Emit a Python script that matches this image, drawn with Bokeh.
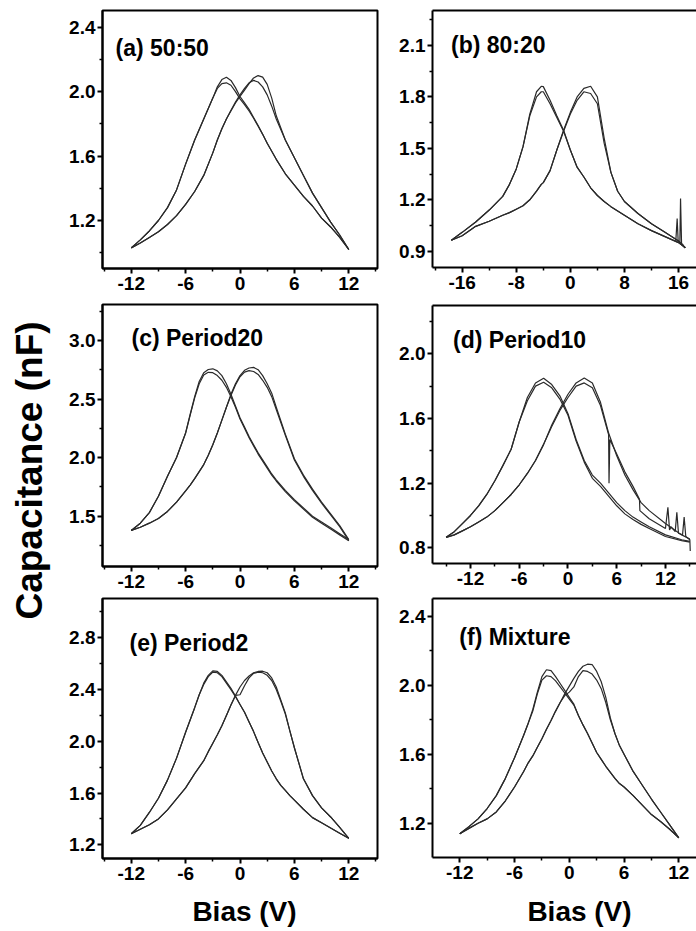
import math
from bokeh.plotting import figure
from bokeh.layouts import row, column
from bokeh.models import FixedTicker, Range1d, LinearAxis, Label, PrintfTickFormatter
from bokeh.embed import file_html
from bokeh.resources import INLINE

# ---------------- data ----------------
# (a) 50:50
a_bias = [-12, -11, -10, -9, -8, -7, -6, -5, -4, -3, -2.5, -2, -1.5, -1, -0.5, 0, 0.5, 1, 1.5, 2, 2.5, 3, 3.5, 4, 5, 6, 7, 8, 9, 10, 11, 12]
a_neg1 = [1.03, 1.08, 1.135, 1.20, 1.28, 1.39, 1.55, 1.70, 1.83, 1.96, 2.03, 2.075, 2.09, 2.07, 2.025, 1.97, 1.93, 1.89, 1.84, 1.79, 1.735, 1.68, 1.63, 1.58, 1.49, 1.42, 1.35, 1.29, 1.215, 1.16, 1.095, 1.02]
a_neg2 = [1.03, 1.08, 1.135, 1.20, 1.28, 1.39, 1.55, 1.70, 1.83, 1.96, 2.02, 2.05, 2.055, 2.04, 2.00, 1.955, 1.92, 1.88, 1.835, 1.785, 1.735, 1.68, 1.63, 1.58, 1.49, 1.42, 1.35, 1.29, 1.215, 1.16, 1.095, 1.02]
a_pos1 = [1.03, 1.06, 1.095, 1.13, 1.175, 1.23, 1.30, 1.38, 1.48, 1.62, 1.70, 1.77, 1.83, 1.88, 1.93, 1.97, 2.01, 2.05, 2.085, 2.10, 2.09, 2.045, 1.96, 1.85, 1.70, 1.59, 1.48, 1.37, 1.28, 1.19, 1.11, 1.02]
a_pos2 = [1.03, 1.06, 1.095, 1.13, 1.175, 1.23, 1.30, 1.38, 1.48, 1.62, 1.70, 1.77, 1.83, 1.885, 1.935, 1.98, 2.02, 2.055, 2.07, 2.06, 2.03, 1.98, 1.91, 1.83, 1.70, 1.59, 1.48, 1.37, 1.28, 1.19, 1.11, 1.02]

# (b) 80:20
b_bias = [-17.6, -16, -14, -12, -10, -9, -8, -7, -6, -5, -4.3, -4, -3, -2, -1, 0, 1, 2, 3, 4, 5, 6, 7, 8, 10, 12, 14, 16, 17]
b_neg1 = [0.964, 1.01, 1.07, 1.14, 1.22, 1.29, 1.38, 1.51, 1.70, 1.83, 1.862, 1.86, 1.78, 1.69, 1.606, 1.49, 1.39, 1.333, 1.27, 1.225, 1.19, 1.16, 1.135, 1.11, 1.06, 1.02, 0.985, 0.95, 0.92]
b_neg2 = [0.964, 1.01, 1.07, 1.14, 1.22, 1.29, 1.38, 1.51, 1.69, 1.80, 1.83, 1.83, 1.76, 1.68, 1.60, 1.49, 1.39, 1.333, 1.27, 1.225, 1.19, 1.16, 1.135, 1.11, 1.06, 1.02, 0.985, 0.95, 0.92]
b_pos1 = [0.964, 0.99, 1.045, 1.075, 1.11, 1.125, 1.145, 1.165, 1.20, 1.25, 1.29, 1.30, 1.37, 1.49, 1.606, 1.71, 1.80, 1.85, 1.862, 1.80, 1.56, 1.36, 1.25, 1.19, 1.12, 1.06, 1.01, 0.96, 0.92]
b_pos2 = [0.964, 0.99, 1.045, 1.075, 1.11, 1.125, 1.145, 1.165, 1.20, 1.25, 1.29, 1.30, 1.37, 1.49, 1.60, 1.70, 1.78, 1.83, 1.82, 1.76, 1.53, 1.36, 1.25, 1.19, 1.12, 1.06, 1.01, 0.96, 0.92]
b_spike_bias = [15.6, 15.8, 15.95, 16.2, 16.3, 16.45, 16.7]
b_spike_cap = [0.96, 1.09, 0.955, 0.95, 1.207, 0.945, 0.935]

# (c) Period20
c_bias = [-12, -11, -10, -9, -8, -7, -6, -5.5, -5, -4.5, -4, -3.5, -3, -2.5, -2, -1.5, -1, -0.5, 0, 0.5, 1, 1.5, 2, 2.5, 3, 3.5, 4, 5, 6, 7, 8, 9, 10, 11, 12]
c_neg1 = [1.378, 1.44, 1.53, 1.67, 1.84, 2.00, 2.21, 2.37, 2.52, 2.65, 2.725, 2.752, 2.758, 2.74, 2.70, 2.63, 2.54, 2.44, 2.34, 2.26, 2.18, 2.11, 2.04, 1.98, 1.92, 1.86, 1.81, 1.72, 1.64, 1.57, 1.50, 1.45, 1.40, 1.35, 1.30]
c_neg2 = [1.378, 1.44, 1.53, 1.67, 1.84, 2.00, 2.21, 2.36, 2.51, 2.63, 2.705, 2.728, 2.725, 2.70, 2.66, 2.60, 2.52, 2.43, 2.33, 2.25, 2.17, 2.10, 2.03, 1.97, 1.91, 1.85, 1.80, 1.71, 1.63, 1.56, 1.49, 1.44, 1.39, 1.34, 1.29]
c_pos1 = [1.378, 1.405, 1.44, 1.48, 1.54, 1.62, 1.715, 1.765, 1.82, 1.88, 1.94, 2.02, 2.11, 2.21, 2.32, 2.43, 2.54, 2.63, 2.70, 2.745, 2.765, 2.77, 2.75, 2.70, 2.63, 2.55, 2.43, 2.20, 1.99, 1.85, 1.73, 1.62, 1.52, 1.42, 1.30]
c_pos2 = [1.378, 1.405, 1.44, 1.48, 1.54, 1.62, 1.715, 1.765, 1.82, 1.88, 1.94, 2.02, 2.11, 2.21, 2.32, 2.43, 2.53, 2.62, 2.69, 2.73, 2.743, 2.735, 2.71, 2.66, 2.60, 2.52, 2.41, 2.19, 1.98, 1.84, 1.72, 1.61, 1.51, 1.41, 1.29]

# (d) Period10
d_bias = [-15, -14, -13, -12, -11, -10, -9, -8, -7, -6, -5, -4, -3, -2, -1, 0, 1, 2, 3, 4, 5, 6, 7, 8, 9, 10, 12, 14, 15]
d_neg1 = [0.865, 0.90, 0.95, 1.00, 1.06, 1.13, 1.215, 1.31, 1.41, 1.58, 1.73, 1.82, 1.849, 1.81, 1.74, 1.63, 1.47, 1.34, 1.25, 1.20, 1.14, 1.08, 1.03, 0.99, 0.96, 0.93, 0.88, 0.85, 0.84]
d_neg2 = [0.865, 0.90, 0.95, 1.00, 1.06, 1.13, 1.215, 1.31, 1.41, 1.58, 1.71, 1.80, 1.824, 1.79, 1.72, 1.62, 1.46, 1.33, 1.23, 1.18, 1.12, 1.06, 1.01, 0.975, 0.945, 0.92, 0.87, 0.845, 0.835]
d_pos1 = [0.865, 0.88, 0.905, 0.93, 0.96, 0.99, 1.03, 1.08, 1.13, 1.19, 1.26, 1.34, 1.44, 1.56, 1.66, 1.75, 1.82, 1.85, 1.82, 1.70, 1.51, 1.37, 1.25, 1.16, 1.08, 1.03, 0.95, 0.88, 0.855]
d_bias2 = [-15, -14, -13, -12, -11, -10, -9, -8, -7, -6, -5, -4, -3, -2, -1, 0, 1, 2, 3, 4, 5, 5.05, 5.15, 6, 7, 8, 8.8, 8.85, 10, 12, 12.3, 12.5, 12.7, 13.2, 13.4, 13.6, 14.1, 14.3, 14.5, 15, 15.05]
d_pos2 = [0.865, 0.88, 0.905, 0.93, 0.96, 0.99, 1.03, 1.08, 1.13, 1.19, 1.26, 1.34, 1.44, 1.55, 1.65, 1.73, 1.80, 1.82, 1.79, 1.68, 1.50, 1.20, 1.47, 1.38, 1.27, 1.18, 1.10, 1.03, 0.98, 0.92, 1.05, 0.91, 0.93, 0.90, 1.02, 0.89, 0.88, 0.99, 0.87, 0.85, 0.78]

# (e) Period2
e_bias = [-12, -11, -10, -9, -8, -7, -6, -5, -4.5, -4, -3.5, -3, -2.5, -2, -1.5, -1, -0.5, 0, 0.5, 1, 1.5, 2, 2.5, 3, 3.5, 4, 4.5, 5, 5.5, 6, 7, 8, 9, 10, 11, 12]
e_neg1 = [1.285, 1.35, 1.45, 1.56, 1.70, 1.87, 2.07, 2.26, 2.36, 2.45, 2.51, 2.545, 2.54, 2.51, 2.46, 2.41, 2.35, 2.285, 2.225, 2.15, 2.075, 1.99, 1.91, 1.84, 1.77, 1.71, 1.66, 1.62, 1.58, 1.545, 1.475, 1.41, 1.37, 1.33, 1.29, 1.25]
e_neg2 = [1.285, 1.35, 1.45, 1.56, 1.70, 1.87, 2.07, 2.26, 2.36, 2.44, 2.50, 2.535, 2.53, 2.50, 2.45, 2.40, 2.345, 2.285, 2.225, 2.15, 2.075, 1.99, 1.91, 1.84, 1.77, 1.71, 1.66, 1.62, 1.58, 1.545, 1.475, 1.41, 1.37, 1.33, 1.29, 1.25]
e_pos1 = [1.285, 1.32, 1.355, 1.40, 1.47, 1.555, 1.64, 1.75, 1.80, 1.85, 1.92, 1.985, 2.05, 2.12, 2.20, 2.28, 2.355, 2.42, 2.47, 2.505, 2.53, 2.54, 2.542, 2.53, 2.49, 2.42, 2.32, 2.22, 2.08, 1.95, 1.71, 1.58, 1.485, 1.415, 1.335, 1.25]
e_pos2 = [1.285, 1.32, 1.355, 1.40, 1.47, 1.555, 1.64, 1.75, 1.80, 1.85, 1.92, 1.985, 2.05, 2.12, 2.20, 2.28, 2.355, 2.36, 2.43, 2.49, 2.525, 2.535, 2.53, 2.51, 2.47, 2.40, 2.31, 2.21, 2.08, 1.95, 1.71, 1.58, 1.485, 1.415, 1.335, 1.25]

# (f) Mixture
f_bias = [-12, -11, -10, -9, -8, -7, -6, -5, -4.5, -4, -3.5, -3, -2.5, -2, -1.5, -1, -0.5, 0, 0.5, 1, 1.5, 2, 2.5, 3, 3.5, 4, 4.5, 5, 5.5, 6, 7, 8, 9, 10, 11, 12]
f_neg1 = [1.139, 1.18, 1.225, 1.285, 1.36, 1.46, 1.58, 1.71, 1.78, 1.86, 1.96, 2.05, 2.09, 2.085, 2.05, 2.01, 1.97, 1.93, 1.89, 1.825, 1.77, 1.72, 1.665, 1.61, 1.57, 1.53, 1.495, 1.46, 1.43, 1.41, 1.36, 1.305, 1.25, 1.21, 1.165, 1.115]
f_neg2 = [1.139, 1.18, 1.225, 1.285, 1.36, 1.46, 1.58, 1.71, 1.78, 1.85, 1.95, 2.03, 2.055, 2.05, 2.025, 1.99, 1.955, 1.92, 1.885, 1.825, 1.77, 1.72, 1.665, 1.61, 1.57, 1.53, 1.495, 1.46, 1.43, 1.41, 1.36, 1.305, 1.25, 1.21, 1.165, 1.115]
f_pos1 = [1.139, 1.17, 1.20, 1.225, 1.265, 1.33, 1.41, 1.50, 1.55, 1.59, 1.64, 1.69, 1.745, 1.795, 1.85, 1.90, 1.95, 1.995, 2.04, 2.08, 2.11, 2.122, 2.12, 2.08, 2.02, 1.93, 1.81, 1.72, 1.65, 1.60, 1.50, 1.42, 1.34, 1.265, 1.19, 1.115]
f_pos2 = [1.139, 1.17, 1.20, 1.225, 1.265, 1.33, 1.41, 1.50, 1.55, 1.59, 1.64, 1.69, 1.745, 1.795, 1.85, 1.90, 1.94, 1.96, 1.99, 2.05, 2.085, 2.08, 2.065, 2.03, 1.98, 1.90, 1.80, 1.72, 1.65, 1.60, 1.50, 1.42, 1.34, 1.265, 1.19, 1.115]

panel_titles = ["(a) 50:50", "(b) 80:20", "(c) Period20", "(d) Period10", "(e) Period2", "(f) Mixture"]
y_label = "Capacitance (nF)"
x_label = "Bias (V)"

x_ticks_12 = [-12, -6, 0, 6, 12]
x_minor_12 = [-15, -9, -3, 3, 9, 15]
x_ticks_16 = [-16, -8, 0, 8, 16]
x_minor_16 = [-20, -12, -4, 4, 12, 20]

# ---------------- styling ----------------
FONT = "Liberation Sans"
INK = "#2a2a2a"


def style_axis(ax, ticks, minor, standoff, fmt):
    ax.ticker = FixedTicker(ticks=ticks, minor_ticks=minor)
    ax.formatter = PrintfTickFormatter(format=fmt)
    ax.axis_line_width = 2
    ax.axis_line_color = "black"
    ax.major_tick_line_width = 2
    ax.major_tick_line_color = "black"
    ax.minor_tick_line_width = 1.5
    ax.minor_tick_line_color = "black"
    ax.major_tick_in = 0
    ax.major_tick_out = 5
    ax.minor_tick_in = 0
    ax.minor_tick_out = 3
    ax.major_label_text_font = FONT
    ax.major_label_text_font_style = "bold"
    ax.major_label_text_font_size = "19px"
    ax.major_label_text_color = "black"
    ax.major_label_standoff = standoff


def make_panel(w, h, borders, xr, yr, xt, xm, yt, ym, closed):
    left, right, top, bottom = borders
    p = figure(width=w, height=h, x_range=Range1d(*xr), y_range=Range1d(*yr),
               output_backend="svg", toolbar_location=None,
               min_border_left=left, min_border_right=right,
               min_border_top=top, min_border_bottom=bottom)
    p.grid.visible = False
    p.background_fill_color = "white"
    p.border_fill_color = "white"
    style_axis(p.xaxis[0], xt, xm, 3, "%d")
    style_axis(p.yaxis[0], yt, ym, 2, "%.1f")
    if closed:
        p.outline_line_color = "black"
        p.outline_line_width = 2
        p.outline_line_alpha = 1.0
    else:
        p.outline_line_color = None
        top_ax = LinearAxis(ticker=FixedTicker(ticks=[]), major_tick_out=0, major_tick_in=0,
                            minor_tick_out=0, minor_tick_in=0, major_label_standoff=0,
                            major_label_text_font_size="0px", axis_line_width=2,
                            axis_line_color="black")
        p.add_layout(top_ax, "above")
    return p


def curves(p, bias, series):
    for s in series:
        p.line(bias, s, line_color=INK, line_width=1.2)


def title(p, x, y, text):
    p.add_layout(Label(x=x, y=y, text=text, text_font=FONT, text_font_style="bold",
                       text_font_size="23px", text_baseline="alphabetic", text_color="black"))


def bare(w, h, xr, yr):
    s = figure(width=w, height=h, x_range=Range1d(*xr), y_range=Range1d(*yr),
               output_backend="svg", toolbar_location=None, min_border=0, title=None,
               x_axis_location=None, y_axis_location=None)
    s.grid.visible = False
    s.outline_line_color = None
    s.background_fill_color = "white"
    s.border_fill_color = "white"
    return s


LW, RW = 330, 311

pa = make_panel(LW, 302, (47, 8, 10, 34), (-15.17, 15.17), (0.902, 2.504),
                x_ticks_12, x_minor_12, [1.2, 1.6, 2.0, 2.4], [1.0, 1.4, 1.8, 2.2], True)
curves(pa, a_bias, [a_neg1, a_neg2, a_pos1, a_pos2])
title(pa, -13.73, 2.271, panel_titles[0])

pc = make_panel(LW, 295, (47, 8, 2, 31), (-15.17, 15.17), (1.07, 3.307),
                x_ticks_12, x_minor_12, [1.5, 2.0, 2.5, 3.0], [1.25, 1.75, 2.25, 2.75, 3.25], True)
curves(pc, c_bias, [c_neg1, c_neg2, c_pos1, c_pos2])
title(pc, -11.97, 3.021, panel_titles[2])

pe = make_panel(LW, 293, (47, 8, 1, 32), (-15.17, 15.17), (1.094, 3.104),
                x_ticks_12, x_minor_12, [1.2, 1.6, 2.0, 2.4, 2.8], [1.4, 1.8, 2.2, 2.6, 3.0], True)
curves(pe, e_bias, [e_neg1, e_neg2, e_pos1, e_pos2])
title(pe, -12.19, 2.761, panel_titles[4])

pb = make_panel(RW, 302, (47, 0, 10, 35), (-20.39, 18.66), (0.805, 2.304),
                x_ticks_16, x_minor_16, [0.9, 1.2, 1.5, 1.8, 2.1], [1.05, 1.35, 1.65, 1.95, 2.25], False)
curves(pb, b_bias, [b_neg1, b_neg2, b_pos1, b_pos2])
curves(pb, b_spike_bias, [b_spike_cap])
title(pb, -17.65, 2.102, panel_titles[1])

pd = make_panel(RW, 295, (47, 0, 3, 34), (-16.68, 15.82), (0.703, 2.299),
                x_ticks_12, x_minor_12, [0.8, 1.2, 1.6, 2.0], [1.0, 1.4, 1.8, 2.2], False)
curves(pd, d_bias, [d_neg1, d_neg2, d_pos1])
curves(pd, d_bias2, [d_pos2])
title(pd, -14.15, 2.088, panel_titles[3])

pf = make_panel(RW, 293, (47, 0, 1, 33), (-14.99, 13.94), (1.001, 2.503),
                x_ticks_12, x_minor_12, [1.2, 1.6, 2.0, 2.4], [1.4, 1.8, 2.2], False)
curves(pf, f_bias, [f_neg1, f_neg2, f_pos1, f_pos2])
title(pf, -12.05, 2.277, panel_titles[5])

# strip holding the shared y label (pixel-like coordinates, y up)
ystrip = bare(55, 890, (0, 55), (0, 890))
ystrip.add_layout(Label(x=29, y=420, text=y_label, angle=math.pi / 2, text_align="center",
                        text_baseline="middle", text_font=FONT, text_font_style="bold",
                        text_font_size="37px", text_color="black"))

# strip holding the two x labels
xstrip = bare(696, 41, (0, 696), (0, 41))
for cx in (244, 579):
    xstrip.add_layout(Label(x=cx, y=20, text=x_label, text_align="center",
                            text_baseline="alphabetic", text_font=FONT, text_font_style="bold",
                            text_font_size="28px", text_color="black"))

layout = column(row(ystrip, column(pa, pc, pe), column(pb, pd, pf)), xstrip)

with open("out.html", "w") as fh:
    fh.write(file_html(layout, INLINE, "Capacitance vs Bias"))
